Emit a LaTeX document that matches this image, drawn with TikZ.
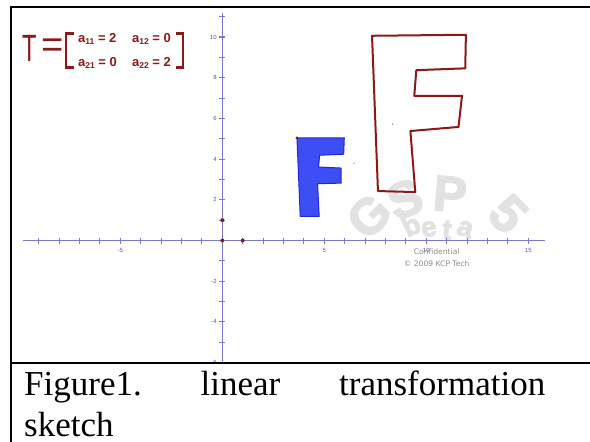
\documentclass[tikz,border=0pt]{standalone}
\usepackage{fontspec}
\setmainfont{Liberation Serif}
\setsansfont{Liberation Sans}
\newfontfamily\dejavu{DejaVu Sans}
\newfontfamily\wmfont[FakeBold=3]{Liberation Sans Bold}
\definecolor{axisblue}{RGB}{122,122,205}
\definecolor{lblblue}{RGB}{85,85,150}
\definecolor{darkred}{RGB}{140,25,25}
\definecolor{fblue}{RGB}{62,78,245}
\definecolor{fblueedge}{RGB}{30,40,225}
\definecolor{wmgray}{RGB}{226,226,226}
\tikzset{
  frameline/.style={line width=2.2pt,black},
  axisline/.style={axisblue,line width=1.3pt},
  tickline/.style={axisblue,line width=1.1pt},
  ticklbl/.style={font=\sffamily\fontsize{6}{6}\selectfont,text=lblblue,inner sep=0pt},
  wmletter/.style={font=\wmfont\fontsize{50}{50}\selectfont,text=wmgray,inner sep=0pt},
  wmsmall/.style={font=\wmfont\fontsize{28}{28}\selectfont,text=wmgray,inner sep=0pt},
  wmtext/.style={font=\dejavu\fontsize{7.6}{8}\selectfont,text=black!45,inner sep=0pt},
  entry/.style={font=\sffamily\bfseries\fontsize{13}{13}\selectfont,text=darkred,inner sep=0pt,anchor=base west},
  captxt/.style={font=\fontsize{35}{42}\selectfont,inner sep=0pt,anchor=base west},
  reddot/.style={fill=darkred},
}
\newcommand{\subent}[1]{{\fontsize{8.5}{8.5}\selectfont\raisebox{-2.2pt}{#1}}}
\begin{document}
\begin{tikzpicture}[x=1pt,y=-1pt]
\useasboundingbox (0,0) rectangle (590,442);
\fill[white] (0,0) rectangle (590,442);

% ---------- graph area ----------
\begin{scope}
\clip (23,8) rectangle (590,362.5);
% watermark
\node[wmletter,rotate=45] (wmG) at (369,216) {G};
\node[wmletter,rotate=20] (wmS) at (405,199) {S};
\node[wmletter,rotate=-5] (wmP) at (450,194) {P};
\node[wmletter,rotate=-45,font=\wmfont\fontsize{52}{52}\selectfont] (wm5) at (508,214) {5};
\node[wmsmall,rotate=25] (wmb) at (411,225) {b};
\node[wmsmall,rotate=10] (wme) at (429,229) {e};
\node[wmsmall,rotate=-5] (wmt) at (447,230) {t};
\node[wmsmall,rotate=-20] (wma) at (465,229) {a};

\begin{scope}[shift={(222.3,240.5)},x=20.4pt,y=20.35pt]
  % axes
  \draw[axisline] (-9.75,0) -- (15.8,0);
  \draw[axisline] (0,-6.2) -- (0,11.2);
  \foreach \i in {-10,...,-1,1,2,...,15}
    \draw[tickline] ([yshift=3pt]\i,0) -- ([yshift=-3pt]\i,0);
  \foreach \j in {-6,...,-1,1,2,...,11}
    \draw[tickline] ([xshift=-3pt]0,\j) -- ([xshift=3pt]0,\j);
  \foreach \i/\t in {-10/-10,-5/-5,5/5,10/10,15/15}
    \node[ticklbl] (xl\i) at ([yshift=-10pt]\i,0) {\t};
  \foreach \j/\t in {10/10,8/8,6/6,4/4,2/2,-2/-2,-4/-4,-6/-6}
    \node[ticklbl,anchor=east] (yl\j) at ([xshift=-5.5pt]0,\j) {\t};

  % image F (red outline)
  \draw[darkred,line width=2pt,line join=round]
    (7.34,10.06) -- (11.94,10.11) -- (11.91,8.46) -- (9.51,8.37) -- (9.41,7.11)
    -- (11.75,7.11) -- (11.58,5.58) -- (9.22,5.38) -- (9.46,2.38) -- (7.63,2.43) -- cycle;
  % original F (blue)
  \filldraw[fill=fblue,draw=fblueedge,line width=1pt,line join=round]
    (3.66,5.04) -- (5.98,5.04) -- (5.95,4.24) -- (4.77,4.19) -- (4.72,3.61)
    -- (5.83,3.56) -- (5.83,2.82) -- (4.67,2.79) -- (4.75,1.18) -- (3.82,1.18) -- cycle;

  % points
  \fill[reddot] (0,0) circle (2pt);
  \fill[reddot] (0,1) circle (2pt);
  \fill[reddot] (1,0) circle (2pt);
  \fill[reddot] (3.66,5.04) circle (1.6pt);
  \fill[black!50] (6.46,3.8) circle (0.7pt);
  \fill[black!60] (8.35,5.72) circle (0.7pt);
\end{scope}

\node[wmtext] (conf) at (436.7,251.7) {Confidential};
\node[wmtext] (copy) at (436.7,263.5) {© 2009 KCP Tech};
\end{scope}

% ---------- matrix label ----------
\node[font=\sffamily\fontsize{38}{38}\selectfont,text=darkred,inner sep=0pt,anchor=base west,xscale=0.62] (T) at (22.3,61) {T};
\node[font=\sffamily\fontsize{38}{38}\selectfont,text=darkred,inner sep=0pt] (eq) at (53,48) {=};
\draw[darkred,line width=2.6pt] (73.5,33.5) -- (66,33.5) -- (66,67.5) -- (73.5,67.5);
\draw[darkred,line width=2.6pt] (175.5,33.5) -- (183,33.5) -- (183,67.5) -- (175.5,67.5);
\node[entry] (a11) at (78,42.5) {a\subent{11} = 2};
\node[entry] (a12) at (132,42.5) {a\subent{12} = 0};
\node[entry] (a21) at (78,66) {a\subent{21} = 0};
\node[entry] (a22) at (132,66) {a\subent{22} = 2};

% ---------- frame ----------
\draw[frameline] (11,6.8) -- (590,6.8);
\draw[frameline] (11,5.7) -- (11,442);
\draw[frameline] (11,363.3) -- (590,363.3);

% ---------- caption ----------
\node[captxt] (cap1) at (24,395) {Figure1.};
\node[captxt] (cap2) at (200.5,395) {linear};
\node[captxt] (cap3) at (339,395) {transformation};
\node[captxt] (cap4) at (24,436.7) {sketch};
\end{tikzpicture}
\end{document}
